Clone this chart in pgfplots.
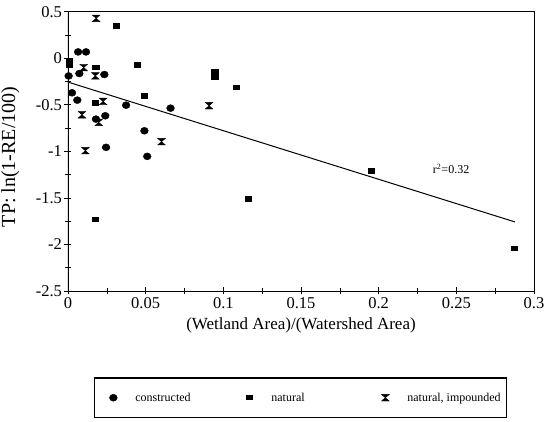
\documentclass[border=0pt]{standalone}
\usepackage{fontspec}
\setmainfont{Liberation Serif}
\usepackage{pgfplots}
\pgfplotsset{compat=1.18}

% marks of the original: flat squares and a filled hourglass
\pgfdeclareplotmark{flatsq}{%
  \pgfpathrectangle{\pgfpoint{-3.6pt}{-2.7pt}}{\pgfpoint{7.2pt}{5.4pt}}%
  \pgfusepathqfill}
\pgfdeclareplotmark{hglass}{%
  \pgfpathmoveto{\pgfpoint{-3.9pt}{3.3pt}}%
  \pgfpathlineto{\pgfpoint{3.9pt}{3.3pt}}%
  \pgfpathlineto{\pgfpoint{-3.9pt}{-3.3pt}}%
  \pgfpathlineto{\pgfpoint{3.9pt}{-3.3pt}}%
  \pgfpathclose
  \pgfusepathqfillstroke}

\begin{document}
\begin{tikzpicture}
\begin{axis}[
    name=ax,
    width=466pt, height=279.3pt,
    scale only axis,
    xmin=0, xmax=0.3,
    ymin=-2.5, ymax=0.5,
    xtick={0,0.05,0.1,0.15,0.2,0.25,0.3},
    ytick={-2.5,-2,-1.5,-1,-0.5,0,0.5},
    minor x tick num=1,
    minor y tick num=1,
    xtick pos=bottom, ytick pos=left,
    tick align=center,
    major tick length=7pt,
    minor tick length=6pt,
    tick style={black, line width=0.6pt},
    axis line style={line width=0.9pt},
    /pgf/number format/assume math mode=true,
    /pgf/number format/fixed,
    ticklabel style={font=\fontsize{16.5}{20}\selectfont},
    xticklabel style={yshift=1pt},
    yticklabel style={xshift=1pt},
    xlabel={(Wetland Area)/(Watershed Area)},
    ylabel={TP: ln(1-RE/100)},
    xlabel style={font=\fontsize{17}{20}\selectfont,
        at={(axis description cs:0.5,0)}, anchor=north, yshift=-23pt},
    ylabel style={font=\fontsize{20}{24}\selectfont,
        at={(axis description cs:-0.124,0.48)}, anchor=center, rotate=0},
    legend columns=3,
    legend style={
        at={(axis description cs:0.499,-0.308)}, anchor=north,
        draw=black, line width=1.6pt,
        font=\fontsize{12}{14}\selectfont,
        inner xsep=6pt, inner ysep=15pt,
        nodes={inner sep=0pt},
        /tikz/every odd column/.append style={column sep=18pt},
        /tikz/every even column/.append style={column sep=6pt},
    },
    legend image code/.code={%
        \path[draw=none, fill=none] (-13pt,0pt) -- (4pt,0pt);
        \draw[#1, line width=0.4pt] plot coordinates {(0pt,0pt)};},
]
% constructed
\addplot[only marks, mark=*, mark size=3.9pt, mark options={yscale=0.9}, black]
coordinates {
(0.0065,0.068) (0.0116,0.068) (0.0004,-0.19) (0.0073,-0.164) (0.0234,-0.175)
(0.0026,-0.371) (0.0060,-0.450) (0.0180,-0.654) (0.0240,-0.618) (0.0374,-0.504)
(0.0660,-0.536) (0.0492,-0.779) (0.0245,-0.957) (0.0510,-1.054)
};
\addlegendentry{\makebox[95pt][l]{constructed}}
% natural
\addplot[only marks, mark=flatsq, black]
coordinates {
(0.0310,0.346) (0.0010,-0.030) (0.0010,-0.080) (0.0180,-0.100) (0.0445,-0.071)
(0.0495,-0.404) (0.0176,-0.482) (0.0946,-0.145) (0.0946,-0.200) (0.1086,-0.317)
(0.1160,-1.510) (0.1955,-1.210) (0.2877,-2.045) (0.0176,-1.730)
};
\addlegendentry{\makebox[95pt][l]{natural}}
% natural, impounded
\addplot[only marks, mark=hglass, black]
coordinates {
(0.0181,0.429) (0.0101,-0.100) (0.0176,-0.190) (0.0226,-0.464) (0.0090,-0.607)
(0.0198,-0.689) (0.0908,-0.510) (0.0602,-0.896) (0.0112,-0.993)
};
\addlegendentry{natural, impounded}
% regression line
\addplot[black, line width=1pt, forget plot] coordinates {(0,-0.256) (0.2877,-1.758)};
\node[anchor=west, font=\fontsize{12}{14}\selectfont] at (axis cs:0.2327,-1.19) {r\textsuperscript{2}=0.32};
\draw[line width=1.8pt] (rel axis cs:0,0) -- (rel axis cs:0,1);
\end{axis}
\pgfresetboundingbox
\path[use as bounding box] ([shift={(-68pt,-131pt)}]ax.south west) rectangle ([shift={(10pt,11.7pt)}]ax.north east);
\end{tikzpicture}
\end{document}
